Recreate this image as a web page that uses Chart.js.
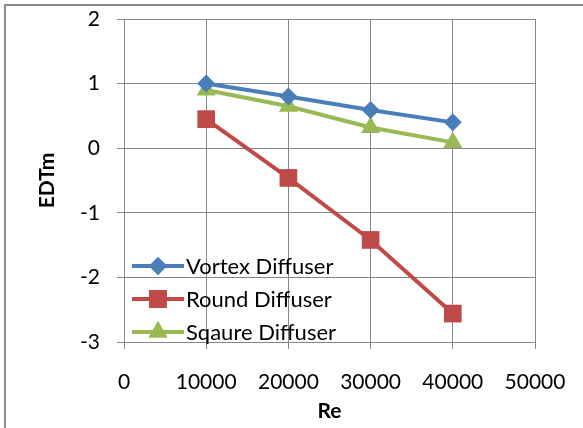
<!DOCTYPE html>
<html>
<head>
<meta charset="utf-8">
<script src="https://cdn.jsdelivr.net/npm/chart.js@4/dist/chart.umd.min.js"></script>
<style>
  html, body { margin: 0; padding: 0; background: #fff; }
  #wrap { width: 583px; height: 428px; }
</style>
</head>
<body>
<div id="wrap"><canvas id="edtChart" width="583" height="428"></canvas></div>
<script>
// data
const reValues = [10000, 20000, 30000, 40000];
const vortex = [1.0, 0.8, 0.59, 0.4];
const round = [0.45, -0.46, -1.42, -2.56];
const square = [0.9, 0.65, 0.32, 0.09];
const seriesNames = ["Vortex Diffuser", "Round Diffuser", "Sqaure Diffuser"];
const xTicks = [0, 10000, 20000, 30000, 40000, 50000];
const yTicks = [-3, -2, -1, 0, 1, 2];

const FONT = "Lato, 'Liberation Sans', sans-serif";
const GRID = "#878787";
const colors = ["#4a7ebb", "#be4b48", "#98b954"];
const markers = ["rectRot", "rect", "triangle"];
const radii = [9, 12.5, 11];

function toPoints(ys) {
    return reValues.map(function (x, i) { return { x: x, y: ys[i] }; });
}

// legend drawn inside the plot area, bottom-left, like the Excel one
const insideLegend = {
    id: "insideLegend",
    beforeDraw: function (chart) {
        let ctx = chart.ctx;
        ctx.save();
        ctx.strokeStyle = "#8c8c8c";
        ctx.lineWidth = 2;
        ctx.beginPath();
        ctx.moveTo(5, 428);
        ctx.lineTo(5, 5);
        ctx.lineTo(583, 5);
        ctx.stroke();
        ctx.restore();
    },
    afterDatasetsDraw: function (chart) {
        let ctx = chart.ctx;
        let area = chart.chartArea;
        let x0 = area.left + 8;
        let rowH = 33;
        let y0 = area.bottom - 76;
        ctx.save();
        chart.data.datasets.forEach(function (ds, i) {
            let y = y0 + i * rowH;
            ctx.strokeStyle = ds.borderColor;
            ctx.lineWidth = 4;
            ctx.beginPath();
            ctx.moveTo(x0, y);
            ctx.lineTo(x0 + 52, y);
            ctx.stroke();
            ctx.fillStyle = ds.borderColor;
            ctx.beginPath();
            Chart.helpers.drawPoint(ctx, {
                pointStyle: ds.pointStyle,
                radius: ds.pointRadius,
                borderWidth: 0
            }, x0 + 26, y);
            ctx.fill();
            ctx.fillStyle = "#000";
            ctx.font = "22px " + FONT;
            ctx.textBaseline = "middle";
            ctx.fillText(ds.label, x0 + 54, y + 1);
        });
        ctx.restore();
    }
};

let datasets = [vortex, round, square].map(function (ys, i) {
    return {
        label: seriesNames[i],
        data: toPoints(ys),
        borderColor: colors[i],
        backgroundColor: colors[i],
        pointBackgroundColor: colors[i],
        pointBorderColor: colors[i],
        pointBorderWidth: 0,
        pointStyle: markers[i],
        pointRadius: radii[i],
        borderWidth: 4,
        tension: 0
    };
});

new Chart(document.getElementById("edtChart"), {
    type: "line",
    data: { datasets: datasets },
    options: {
        responsive: false,
        animation: false,
        layout: { padding: { left: 0, right: 48, top: 19, bottom: 0 } },
        plugins: {
            legend: { display: false },
            tooltip: { enabled: false }
        },
        scales: {
            x: {
                type: "linear",
                min: 0,
                max: 50000,
                afterBuildTicks: function (scale) {
                    scale.ticks = xTicks.map(function (v) { return { value: v }; });
                },
                afterFit: function (scale) {
                    scale.height = 86;
                    scale.paddingLeft = 0;
                    scale.paddingRight = 0;
                },
                grid: { color: GRID, lineWidth: 1, tickLength: 7, tickColor: GRID },
                border: { color: GRID },
                ticks: {
                    color: "#000",
                    padding: 21,
                    font: { family: FONT, size: 21 },
                    callback: function (v) { return String(v); }
                },
                title: {
                    display: true,
                    text: "Re",
                    color: "#000",
                    padding: { top: 0 },
                    font: { family: FONT, size: 21, weight: "bold" }
                }
            },
            y: {
                type: "linear",
                min: -3,
                max: 2,
                afterBuildTicks: function (scale) {
                    scale.ticks = yTicks.map(function (v) { return { value: v }; });
                },
                afterFit: function (scale) {
                    scale.width = 124;
                    scale.paddingTop = 0;
                    scale.paddingBottom = 0;
                },
                grid: { color: GRID, lineWidth: 1, tickLength: 7, tickColor: GRID },
                border: { color: GRID },
                ticks: {
                    color: "#000",
                    padding: 17,
                    font: { family: FONT, size: 21 }
                },
                title: {
                    display: true,
                    text: "EDTm",
                    color: "#000",
                    padding: { top: 35, bottom: 0 },
                    font: { family: FONT, size: 21, weight: "bold" }
                }
            }
        }
    },
    plugins: [insideLegend]
});
</script>
</body>
</html>
